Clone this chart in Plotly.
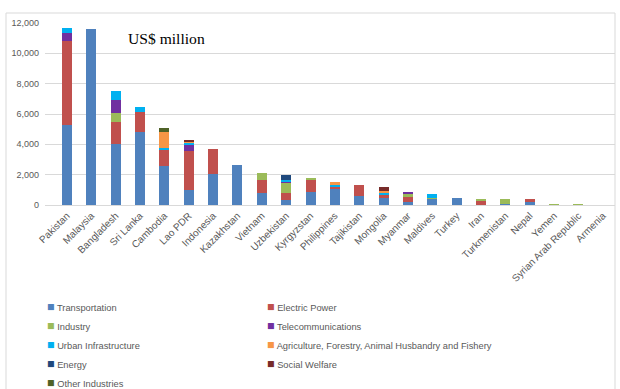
import plotly.graph_objects as go

# Countries in descending order of total investment
countries = [
    "Pakistan", "Malaysia", "Bangladesh", "Sri Lanka", "Cambodia", "Lao PDR",
    "Indonesia", "Kazakhstan", "Vietnam", "Uzbekistan", "Kyrgyzstan",
    "Philippines", "Tajikistan", "Mongolia", "Myanmar", "Maldives", "Turkey",
    "Iran", "Turkmenistan", "Nepal", "Yemen", "Syrian Arab Republic", "Armenia",
]

# Investment by sector, US$ million
transportation = [5300, 11600, 4050, 4800, 2560, 970, 2070, 2630, 790, 330, 850,
                  1030, 590, 480, 180, 420, 480, 30, 50, 220, 0, 0, 0]
electric_power = [5520, 0, 1400, 1350, 1110, 2580, 1630, 0, 850, 480, 810,
                  170, 720, 155, 370, 0, 0, 290, 0, 150, 0, 0, 0]
industry = [0, 0, 600, 0, 0, 0, 0, 0, 440, 650, 65,
            0, 0, 0, 215, 60, 0, 90, 350, 0, 30, 30, 0]
telecommunications = [520, 0, 900, 0, 0, 390, 0, 0, 0, 70, 0,
                      0, 0, 0, 85, 0, 0, 0, 0, 0, 0, 0, 0]
urban_infrastructure = [310, 0, 590, 330, 100, 160, 0, 0, 0, 90, 0,
                        130, 0, 175, 0, 260, 0, 0, 0, 0, 0, 0, 0]
agriculture = [0, 0, 0, 0, 1050, 90, 0, 0, 0, 0, 0,
               160, 0, 90, 0, 0, 0, 0, 0, 0, 0, 0, 0]
energy = [0, 0, 0, 0, 0, 0, 0, 0, 0, 390, 0,
          0, 0, 0, 0, 0, 0, 0, 0, 0, 0, 0, 0]
social_welfare = [0, 0, 0, 0, 0, 100, 0, 0, 0, 0, 0,
                  0, 0, 280, 0, 0, 0, 0, 0, 0, 0, 0, 0]
other_industries = [0, 0, 0, 0, 260, 0, 0, 0, 0, 0, 0,
                    0, 0, 0, 0, 0, 0, 0, 0, 0, 0, 0, 0]

y_ticks = [0, 2000, 4000, 6000, 8000, 10000, 12000]

sectors = [
    ("Transportation", transportation, "#4F81BD"),
    ("Electric Power", electric_power, "#C0504D"),
    ("Industry", industry, "#9BBB59"),
    ("Telecommunications", telecommunications, "#7030A0"),
    ("Urban Infrastructure", urban_infrastructure, "#00B0F0"),
    ("Agriculture, Forestry, Animal Husbandry and Fishery", agriculture, "#F79646"),
    ("Energy", energy, "#1F497D"),
    ("Social Welfare", social_welfare, "#772C2A"),
    ("Other Industries", other_industries, "#4F6228"),
]

FONT = "Liberation Sans"
GRAY = "#595959"
GRID = "#D9D9D9"
W, H = 620, 389
ML, MR, MT, MB = 45, 5, 23, 184
PW, PH = W - ML - MR, H - MT - MB


def px_x(x):
    """Horizontal pixel position -> paper coordinate."""
    return (x - ML) / PW


def px_y(y):
    """Vertical pixel position (from top) -> paper coordinate."""
    return (H - MB - y) / PH


fig = go.Figure()
for name, values, color in sectors:
    fig.add_trace(go.Bar(
        x=countries, y=values, name=name,
        marker=dict(color=color, line=dict(width=0)),
    ))

# Two-column key below the chart, filled row by row
annotations = []
for i, (name, _, color) in enumerate(sectors):
    col, row = i % 2, i // 2
    annotations.append(dict(
        text=(f"<span style='color:{color};font-size:12.5px'>■</span>"
              f" {name}"),
        xref="paper", yref="paper",
        x=px_x(45 + col * 220), y=px_y(307 + row * 19),
        xanchor="left", yanchor="middle", showarrow=False,
        font=dict(family=FONT, size=9.3, color=GRAY),
    ))

annotations.append(dict(
    text="US$ million", xref="paper", yref="paper",
    x=px_x(126), y=px_y(38), xanchor="left", yanchor="middle",
    showarrow=False, font=dict(family="Liberation Serif", size=15.6, color="black"),
))

fig.update_layout(
    width=W, height=H,
    margin=dict(l=ML, r=MR, t=MT, b=MB),
    barmode="stack", bargap=0.59, showlegend=False,
    plot_bgcolor="white", paper_bgcolor="white",
    font=dict(family=FONT, size=9, color=GRAY),
    xaxis=dict(
        type="category", range=[-0.9, 22.5], tickangle=-45,
        showgrid=False, showline=True, linecolor=GRID, linewidth=1,
        ticks="", tickfont=dict(family=FONT, size=10, color=GRAY),
    ),
    yaxis=dict(
        range=[0, 12000], tickvals=y_ticks, tickformat=",",
        showgrid=True, gridcolor=GRID, gridwidth=1, zeroline=False,
        showline=False, ticks="", ticklabelstandoff=5,
        tickfont=dict(family=FONT, size=9, color=GRAY),
    ),
    annotations=annotations,
    shapes=[dict(
        type="rect", xref="paper", yref="paper",
        x0=px_x(6), x1=px_x(615), y0=px_y(400), y1=px_y(13),
        line=dict(color=GRID, width=1), fillcolor="rgba(0,0,0,0)", layer="below",
    )],
)

fig.write_html("out.html")
